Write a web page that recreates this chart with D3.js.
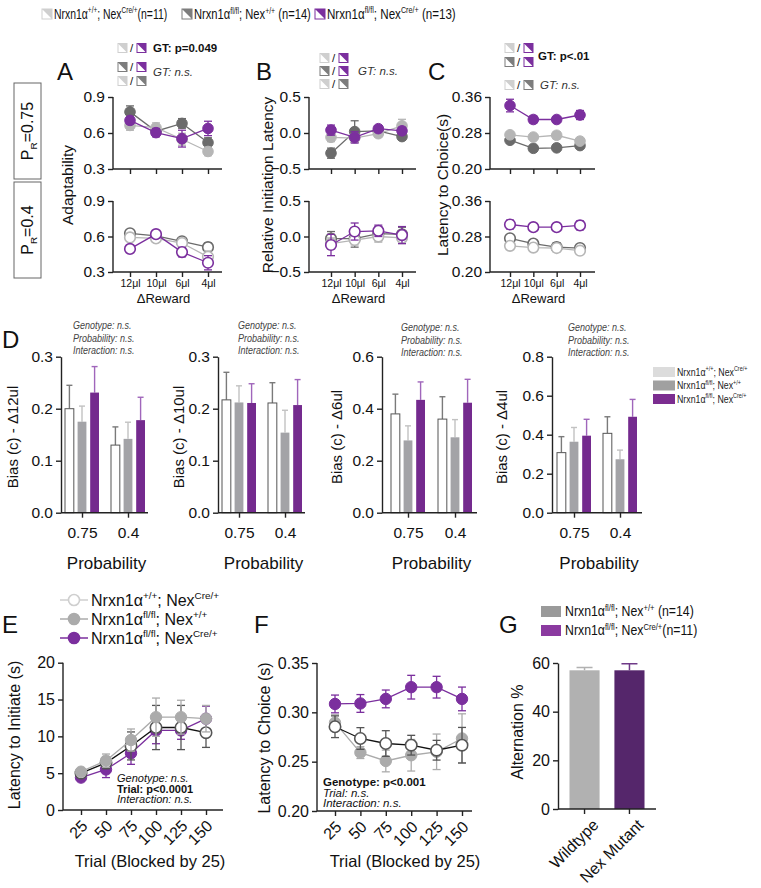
<!DOCTYPE html>
<html><head><meta charset="utf-8">
<script src="https://cdn.jsdelivr.net/npm/d3@7"></script>
<style>body{margin:0;background:#fff}svg{display:block;font-family:"Liberation Sans",Arial,Helvetica,sans-serif}</style>
</head><body><svg id="c" width="761" height="888"></svg>
<script>
// ================= DATA =================
const rewards = ["12μl","10μl","6μl","4μl"];
const trialBlocks = ["25","50","75","100","125","150"];
const probabilities = ["0.75","0.4"];
const genotypes = ["wt","flox","cko"];
const altGroups = ["Wildtype","Nex Mutant"];

// A: Adaptability (P_R = 0.75 top, 0.4 bottom)
const adaptHighWT = [0.663,0.644,0.548,0.446], adaptHighWTErr = [0.04,0.04,0.05,0.035];
const adaptHighFlox = [0.776,0.615,0.680,0.520], adaptHighFloxErr = [0.05,0.04,0.04,0.04];
const adaptHighCko = [0.705,0.603,0.553,0.638], adaptHighCkoErr = [0.03,0.035,0.07,0.06];
const adaptLowWT = [0.592,0.584,0.545,0.428], adaptLowWTErr = [0.035,0.03,0.04,0.05];
const adaptLowFlox = [0.627,0.605,0.559,0.510], adaptLowFloxErr = [0.03,0.03,0.03,0.035];
const adaptLowCko = [0.495,0.620,0.468,0.378], adaptLowCkoErr = [0.03,0.03,0.04,0.06];
// B: Relative initiation latency
const initHighWT = [-0.06,-0.07,-0.01,0.10], initHighWTErr = [0.06,0.06,0.05,0.09];
const initHighFlox = [-0.28,0.02,0.03,-0.05], initHighFloxErr = [0.07,0.15,0.04,0.05];
const initHighCko = [0.04,-0.06,0.06,0.03], initHighCkoErr = [0.07,0.08,0.04,0.05];
const initLowWT = [-0.10,-0.05,0.00,-0.02], initLowWTErr = [0.08,0.07,0.08,0.08];
const initLowFlox = [-0.03,-0.03,0.04,0.03], initLowFloxErr = [0.10,0.12,0.10,0.10];
const initLowCko = [-0.12,0.07,0.08,0.02], initLowCkoErr = [0.15,0.12,0.08,0.12];
// C: Latency to choice
const choiceHighWT = [0.276,0.271,0.275,0.262], choiceHighWTErr = [0.006,0.005,0.008,0.006];
const choiceHighFlox = [0.264,0.246,0.247,0.252], choiceHighFloxErr = [0.007,0.006,0.006,0.005];
const choiceHighCko = [0.341,0.310,0.310,0.320], choiceHighCkoErr = [0.014,0.008,0.006,0.010];
const choiceLowWT = [0.259,0.255,0.254,0.248], choiceLowWTErr = [0.005,0.005,0.005,0.005];
const choiceLowFlox = [0.276,0.264,0.256,0.254], choiceLowFloxErr = [0.007,0.006,0.010,0.006];
const choiceLowCko = [0.307,0.301,0.301,0.305], choiceLowCkoErr = [0.010,0.008,0.006,0.010];
// D: Bias (c), values per probability [0.75, 0.4]
const bias12WT = [0.200,0.130], bias12WTErr = [0.045,0.035];
const bias12Flox = [0.175,0.142], bias12FloxErr = [0.030,0.032];
const bias12Cko = [0.231,0.178], bias12CkoErr = [0.050,0.044];
const bias10WT = [0.217,0.211], bias10WTErr = [0.053,0.039];
const bias10Flox = [0.212,0.154], bias10FloxErr = [0.032,0.043];
const bias10Cko = [0.211,0.207], bias10CkoErr = [0.037,0.049];
const bias6WT = [0.380,0.360], bias6WTErr = [0.076,0.086];
const bias6Flox = [0.278,0.290], bias6FloxErr = [0.056,0.068];
const bias6Cko = [0.434,0.423], bias6CkoErr = [0.069,0.090];
const bias4WT = [0.308,0.407], bias4WTErr = [0.082,0.085];
const bias4Flox = [0.364,0.274], bias4FloxErr = [0.073,0.047];
const bias4Cko = [0.395,0.492], bias4CkoErr = [0.084,0.089];
// E: Latency to initiate by trial block
const initTrialWT = [5.0,6.4,8.7,11.2,11.2,10.5], initTrialWTErr = [0.4,0.8,1.9,3.0,3.0,2.0];
const initTrialFlox = [5.2,6.7,9.5,12.6,12.6,12.4], initTrialFloxErr = [0.4,0.9,1.5,2.6,2.3,1.8];
const initTrialCko = [4.4,5.5,7.7,10.8,10.8,12.4], initTrialCkoErr = [0.4,1.1,1.5,1.8,1.2,1.7];
// F: Latency to choice by trial block
const choiceTrialWT = [0.2854,0.2735,0.2684,0.2667,0.2616,0.2667], choiceTrialWTErr = [0.011,0.011,0.013,0.010,0.010,0.018];
const choiceTrialFlox = [0.2895,0.2592,0.2507,0.2565,0.2600,0.2735], choiceTrialFloxErr = [0.008,0.006,0.011,0.016,0.018,0.025];
const choiceTrialCko = [0.3085,0.3090,0.3136,0.3255,0.3255,0.3136], choiceTrialCkoErr = [0.009,0.009,0.009,0.012,0.011,0.012];
// G: Alternation %
const alternation = [57.0,57.0], alternationErr = [1.1,2.7];

// text labels
const wtLabel = ["Nrxn1α",["+/+","sup"],"; Nex",["Cre/+","sup"]];
const floxLabel = ["Nrxn1α",["fl/fl","sup"],"; Nex",["+/+","sup"]];
const ckoLabel = ["Nrxn1α",["fl/fl","sup"],"; Nex",["Cre/+","sup"]];

// ================= DRAWING =================
const svg = d3.select("#c");
const FONT = '"Liberation Sans", Arial, Helvetica, sans-serif';
const COL = {light:"#b6b6b6", dark:"#6b6b6b", purple:"#7b2f9e", black:"#222"};

function rich(parent, x, y, parts, fs, o = {}) {
  const t = parent.append("text").attr("font-size", fs)
    .attr("fill", o.fill || "#111").attr("font-family", FONT);
  if (o.sx) t.attr("x", 0).attr("y", 0).attr("transform", `translate(${x},${y}) scale(${o.sx},1)`);
  else t.attr("x", x).attr("y", y);
  if (o.anchor) t.attr("text-anchor", o.anchor);
  if (o.transform) t.attr("transform", o.transform);
  if (o.weight) t.attr("font-weight", o.weight);
  if (o.italic) t.attr("font-style", "italic");
  let cur = 0;
  parts.forEach(p => {
    const [s, k] = Array.isArray(p) ? p : [p, "n"];
    const off = k === "sup" ? -fs * 0.38 : k === "sub" ? fs * 0.28 : 0;
    const ts = t.append("tspan").attr("dy", off - cur).text(s);
    cur = off;
    if (k !== "n") ts.attr("font-size", fs * 0.62);
  });
  return t;
}
function txt(x, y, s, fs, o = {}) { return rich(svg, x, y, [s], fs, o); }

function styleAxis(a, fs) {
  a.attr("font-family", FONT).attr("font-size", fs);
  a.selectAll(".domain, .tick line").attr("stroke", "#222").attr("stroke-width", 1.4);
  a.selectAll("text").attr("fill", "#111");
}

function icon(x, y, kind, s = 9) {
  const col = {light:"#cfcfcf", dark:"#7d7d7d", purple:"#7b2f9e"}[kind];
  svg.append("rect").attr("x", x).attr("y", y - s/2).attr("width", s).attr("height", s)
    .attr("fill", "#fff").attr("stroke", col).attr("stroke-width", 1);
  svg.append("path").attr("d", `M${x},${y - s/2}L${x + s},${y - s/2}L${x + s},${y + s/2}Z`).attr("fill", col);
}
function iconRow(x, y, a, b) {
  icon(x, y, a);
  txt(x + 12, y + 4, "/", 11.5);
  icon(x + 19, y, b);
}

function linePanel(o) {
  const g = svg.append("g");
  const x = d3.scalePoint().domain(o.cats).range([o.p0, o.p1]);
  const y = d3.scaleLinear().domain(o.yDom).range([o.yB, o.yT]);
  const ay = g.append("g").attr("transform", `translate(${o.ax0},0)`)
    .call(d3.axisLeft(y).tickValues(o.yTicks).tickFormat(d3.format(o.fmt)).tickSize(5).tickSizeOuter(0));
  ay.select(".domain").attr("d", `M0,${o.yB}V${o.yT}`);
  styleAxis(ay, o.yfs || 15.5);
  const ax = g.append("g").attr("transform", `translate(0,${o.yB})`)
    .call(d3.axisBottom(x).tickSize(5).tickSizeOuter(0));
  ax.select(".domain").attr("d", `M${o.ax0},0H${o.ax1}`);
  styleAxis(ax, o.xfs || 10.5);
  if (!o.xLabels) ax.selectAll("text").remove();
  if (o.rot) ax.selectAll("text").attr("y", 0).attr("dy", 0).attr("text-anchor", "end")
    .attr("transform", o.rot);
  const r = o.r || 5.3;
  o.series.forEach(s => {
    const pts = o.cats.map((c, i) => ({c, v: s.v[i], e: s.e[i]}));
    g.append("path").datum(pts).attr("fill", "none").attr("stroke", s.line || s.col).attr("stroke-width", 1.3)
      .attr("d", d3.line().x(d => x(d.c)).y(d => y(d.v)));
    const ec = s.err || s.col;
    const eg = g.append("g").attr("stroke", ec).attr("stroke-width", 1.3);
    eg.selectAll(".v").data(pts).join("line").attr("x1", d => x(d.c)).attr("x2", d => x(d.c))
      .attr("y1", d => y(d.v - d.e)).attr("y2", d => y(d.v + d.e));
    [1, -1].forEach(sg => eg.selectAll(".c" + sg).data(pts).join("line")
      .attr("x1", d => x(d.c) - 4).attr("x2", d => x(d.c) + 4)
      .attr("y1", d => y(d.v + sg * d.e)).attr("y2", d => y(d.v + sg * d.e)));
    g.append("g").selectAll("circle").data(pts).join("circle")
      .attr("cx", d => x(d.c)).attr("cy", d => y(d.v)).attr("r", r)
      .attr("fill", s.open ? "#fff" : s.col).attr("stroke", s.mk || s.col).attr("stroke-width", s.open ? 1.6 : 1);
  });
  return {x, y};
}

// ---------- top legend ----------
icon(42, 14, "light", 10); rich(svg, 54, 19, [...wtLabel, "(n=11)"], 14.5, {sx: 0.72});
icon(182, 14, "dark", 10); rich(svg, 194, 19, [...floxLabel, " (n=14)"], 14.5, {sx: 0.77});
icon(315, 14, "purple", 10); rich(svg, 327, 19, [...ckoLabel, " (n=13)"], 14.5, {sx: 0.8});

// ---------- panel letters ----------
[["A",57,80],["B",256,80],["C",428,80],["D",2,348],["E",2,633],["F",254,633],["G",499,633]]
  .forEach(([l, x, y]) => txt(x, y, l, 24));

// ---------- P_R boxes ----------
[[83, "0.75"], [182, "0.4"]].forEach(([y0, p]) => {
  svg.append("rect").attr("x", 14).attr("y", y0).attr("width", 27).attr("height", 96)
    .attr("fill", "none").attr("stroke", "#666").attr("stroke-width", 1);
  rich(svg, 0, 0, ["P", ["R", "sub"], "=" + p], 16, {anchor: "middle", transform: `translate(33,${y0 + 48}) rotate(-90)`});
});

// ---------- A/B/C annotations ----------
iconRow(118, 48, "light", "purple"); txt(153, 52, "GT: p=0.049", 11.5, {weight: "bold"});
iconRow(118, 67, "dark", "purple"); txt(153, 76, "GT: n.s.", 11.5, {italic: true, fill: "#333"});
iconRow(118, 81, "light", "dark");
iconRow(320, 58, "light", "purple");
iconRow(320, 71, "dark", "purple"); txt(358, 75, "GT: n.s.", 11.5, {italic: true, fill: "#333"});
iconRow(320, 84, "light", "dark");
iconRow(505, 48, "light", "purple");
iconRow(505, 62, "dark", "purple"); txt(538, 60, "GT: p<.01", 11.5, {weight: "bold"});
iconRow(505, 85, "light", "dark"); txt(540, 89, "GT: n.s.", 11.5, {italic: true, fill: "#333"});

// ---------- A, B, C line panels ----------
function triple(cfg, high, low) {
  const base = {cats: rewards, p0: cfg.p0, p1: cfg.p1, ax0: cfg.ax0, ax1: cfg.ax1, yDom: cfg.yDom, yTicks: cfg.yTicks, fmt: cfg.fmt};
  linePanel({...base, yT: 97, yB: 169, xLabels: false, series: [
    {v: high[1], e: high[4], col: COL.dark},
    {v: high[0], e: high[3], col: COL.light},
    {v: high[2], e: high[5], col: COL.purple}]});
  linePanel({...base, yT: 201, yB: 272, xLabels: true, series: [
    {v: low[1], e: low[4], col: COL.dark, open: true},
    {v: low[0], e: low[3], col: COL.light, open: true},
    {v: low[2], e: low[5], col: COL.purple, open: true}]});
  txt((cfg.ax0 + cfg.ax1) / 2 - 4, 303, "ΔReward", 13, {anchor: "middle"});
  txt(0, 0, cfg.label, 15.5, {anchor: "middle", transform: `translate(${cfg.lx},185) rotate(-90)`});
}
triple({p0: 130, p1: 208, ax0: 113, ax1: 222, yDom: [0.3, 0.9], yTicks: [0.3, 0.6, 0.9], fmt: ".1f", label: "Adaptability", lx: 73},
  [adaptHighWT, adaptHighFlox, adaptHighCko, adaptHighWTErr, adaptHighFloxErr, adaptHighCkoErr],
  [adaptLowWT, adaptLowFlox, adaptLowCko, adaptLowWTErr, adaptLowFloxErr, adaptLowCkoErr]);
triple({p0: 331, p1: 402, ax0: 309, ax1: 416, yDom: [-0.5, 0.5], yTicks: [-0.5, 0, 0.5], fmt: ".1f", label: "Relative Initiation Latency", lx: 273},
  [initHighWT, initHighFlox, initHighCko, initHighWTErr, initHighFloxErr, initHighCkoErr],
  [initLowWT, initLowFlox, initLowCko, initLowWTErr, initLowFloxErr, initLowCkoErr]);
triple({p0: 510, p1: 580, ax0: 490, ax1: 595, yDom: [0.2, 0.36], yTicks: [0.2, 0.28, 0.36], fmt: ".2f", label: "Latency to Choice(s)", lx: 448},
  [choiceHighWT, choiceHighFlox, choiceHighCko, choiceHighWTErr, choiceHighFloxErr, choiceHighCkoErr],
  [choiceLowWT, choiceLowFlox, choiceLowCko, choiceLowWTErr, choiceLowFloxErr, choiceLowCkoErr]);

// ---------- D bar panels ----------
const barFill = {wt: "#fff", flox: "#a3a3a7", cko: "#742a8e"};
const barStroke = {wt: "#555", flox: "none", cko: "none"};
const barErr = {wt: "#7a7a7a", flox: "#c2c2c2", cko: "#a066bb"};
function barPanel(o) {
  const yT = 356.7, yB = 512.7;
  const x = d3.scalePoint().domain(probabilities).range([o.c1, o.c2]);
  const xi = d3.scaleBand().domain(genotypes).range([-17, 17]).paddingInner(0.3);
  const y = d3.scaleLinear().domain([0, o.yMax]).range([yB, yT]);
  const rows = [];
  genotypes.forEach((gt, gi) => probabilities.forEach((p, pi) =>
    rows.push({gt, p, v: o.vals[gi][pi], e: o.errs[gi][pi]})));
  const g = svg.append("g");
  g.selectAll(".eb").data(rows).join("line").attr("stroke", d => barErr[d.gt]).attr("stroke-width", 1.4)
    .attr("x1", d => x(d.p) + xi(d.gt) + xi.bandwidth() / 2).attr("x2", d => x(d.p) + xi(d.gt) + xi.bandwidth() / 2)
    .attr("y1", d => y(d.v)).attr("y2", d => y(d.v + d.e));
  g.selectAll(".ec").data(rows).join("line").attr("stroke", d => barErr[d.gt]).attr("stroke-width", 1.4)
    .attr("x1", d => x(d.p) + xi(d.gt) + xi.bandwidth() / 2 - 3).attr("x2", d => x(d.p) + xi(d.gt) + xi.bandwidth() / 2 + 3)
    .attr("y1", d => y(d.v + d.e)).attr("y2", d => y(d.v + d.e));
  g.selectAll("rect").data(rows).join("rect")
    .attr("x", d => x(d.p) + xi(d.gt)).attr("width", xi.bandwidth())
    .attr("y", d => y(d.v)).attr("height", d => y(0) - y(d.v))
    .attr("fill", d => barFill[d.gt]).attr("stroke", d => barStroke[d.gt]).attr("stroke-width", 1);
  const ay = g.append("g").attr("transform", `translate(${o.ax0},0)`)
    .call(d3.axisLeft(y).tickValues(o.yTicks).tickFormat(d3.format(".1f")).tickSize(5).tickSizeOuter(0));
  styleAxis(ay, 15.5);
  const ax = g.append("g").attr("transform", `translate(0,${yB})`)
    .call(d3.axisBottom(x).tickSize(5).tickPadding(9).tickSizeOuter(0));
  ax.select(".domain").attr("d", `M${o.ax0},0H${o.ax1}`);
  styleAxis(ax, 15.5);
  txt((o.ax0 + o.ax1) / 2 + 2, 569, "Probability", 17, {anchor: "middle"});
  txt(0, 0, o.label, 15, {anchor: "middle", transform: `translate(${o.lx},437) rotate(-90)`});
  [["Genotype: n.s.", 0], ["Probability: n.s.", 12.5], ["Interaction: n.s.", 25]].forEach(([s, dy]) =>
    txt(o.nx, o.ny + dy, s, 11, {italic: true, fill: "#444", sx: 0.82}));
}
barPanel({ax0: 61, ax1: 148, c1: 82, c2: 128, yMax: 0.3, yTicks: [0, 0.1, 0.2, 0.3], lx: 18, label: "Bias (c) - Δ12ul", nx: 73, ny: 329,
  vals: [bias12WT, bias12Flox, bias12Cko], errs: [bias12WTErr, bias12FloxErr, bias12CkoErr]});
barPanel({ax0: 218, ax1: 305, c1: 239, c2: 285, yMax: 0.3, yTicks: [0, 0.1, 0.2, 0.3], lx: 184, label: "Bias (c) - Δ10ul", nx: 238, ny: 329,
  vals: [bias10WT, bias10Flox, bias10Cko], errs: [bias10WTErr, bias10FloxErr, bias10CkoErr]});
barPanel({ax0: 382, ax1: 477, c1: 408, c2: 455, yMax: 0.6, yTicks: [0, 0.2, 0.4, 0.6], lx: 342, label: "Bias (c) - Δ6ul", nx: 401, ny: 331,
  vals: [bias6WT, bias6Flox, bias6Cko], errs: [bias6WTErr, bias6FloxErr, bias6CkoErr]});
barPanel({ax0: 552, ax1: 642, c1: 574, c2: 620, yMax: 0.8, yTicks: [0, 0.2, 0.4, 0.6, 0.8], lx: 507, label: "Bias (c) - Δ4ul", nx: 568, ny: 331,
  vals: [bias4WT, bias4Flox, bias4Cko], errs: [bias4WTErr, bias4FloxErr, bias4CkoErr]});
// D legend
[[wtLabel, "#dcdcdc", 367], [floxLabel, "#a0a0a0", 380.5], [ckoLabel, "#7b2d90", 394]].forEach(([lab, c, y]) => {
  svg.append("rect").attr("x", 653).attr("y", y).attr("width", 22).attr("height", 10).attr("fill", c);
  rich(svg, 677, y + 8.5, lab, 11, {fill: "#222", sx: 0.8});
});

// ---------- E ----------
const rotE = "translate(7,17) rotate(-45)";
linePanel({cats: trialBlocks, p0: 81, p1: 206, ax0: 63, ax1: 223, yT: 662.7, yB: 810, yDom: [0, 20], yTicks: [0, 5, 10, 15, 20], fmt: "d",
  xLabels: true, xfs: 16, rot: rotE, r: 5.7, yfs: 16, series: [
    {v: initTrialCko, e: initTrialCkoErr, col: COL.purple},
    {v: initTrialWT, e: initTrialWTErr, col: "#555", line: "#111", open: true},
    {v: initTrialFlox, e: initTrialFloxErr, col: "#ababab"}]});
txt(0, 0, "Latency to Initiate (s)", 16, {anchor: "middle", transform: "translate(20,735) rotate(-90)"});
txt(150, 867, "Trial (Blocked by 25)", 16.5, {anchor: "middle"});
txt(117, 782, "Genotype: n.s.", 11, {italic: true});
txt(117, 792.5, "Trial: p<0.0001", 11, {weight: "bold"});
txt(117, 803, "Interaction: n.s.", 11, {italic: true});
// E legend
[[wtLabel, "#cfcfcf", true, 600], [floxLabel, "#ababab", false, 619], [ckoLabel, COL.purple, false, 638]].forEach(([lab, c, open, y]) => {
  svg.append("line").attr("x1", 60).attr("x2", 88).attr("y1", y).attr("y2", y).attr("stroke", c).attr("stroke-width", 1.5);
  svg.append("circle").attr("cx", 74).attr("cy", y).attr("r", 5.5).attr("fill", open ? "#fff" : c).attr("stroke", c).attr("stroke-width", 1.6);
  rich(svg, 91, y + 5.5, lab, 16);
});

// ---------- F ----------
linePanel({cats: trialBlocks, p0: 335, p1: 462, ax0: 317, ax1: 472, yT: 663, yB: 811, yDom: [0.2, 0.35], yTicks: [0.2, 0.25, 0.3, 0.35], fmt: ".2f",
  xLabels: true, xfs: 16, rot: rotE, r: 5.7, yfs: 16, series: [
    {v: choiceTrialFlox, e: choiceTrialFloxErr, col: "#ababab"},
    {v: choiceTrialWT, e: choiceTrialWTErr, col: "#555", line: "#111", open: true},
    {v: choiceTrialCko, e: choiceTrialCkoErr, col: COL.purple}]});
txt(0, 0, "Latency to Choice (s)", 16, {anchor: "middle", transform: "translate(270,738) rotate(-90)"});
txt(405, 867, "Trial (Blocked by 25)", 16.5, {anchor: "middle"});
txt(323, 786, "Genotype: p<0.001", 11.5, {weight: "bold"});
txt(323, 796.5, "Trial: n.s.", 11.5, {italic: true});
txt(323, 807, "Interaction: n.s.", 11.5, {italic: true});

// ---------- G ----------
(function () {
  const yT = 663, yB = 809;
  const x = d3.scaleBand().domain(altGroups).range([571 - 6, 643 + 6]).paddingInner(0.33).paddingOuter(0.1);
  const y = d3.scaleLinear().domain([0, 60]).range([yB, yT]);
  const fills = ["#b1b1b1", "#55266b"], errs = ["#b1b1b1", "#6f3a88"];
  const rows = altGroups.map((gname, i) => ({g: gname, v: alternation[i], e: alternationErr[i], i}));
  const g = svg.append("g");
  g.selectAll(".e").data(rows).join("path").attr("fill", "none").attr("stroke", d => errs[d.i]).attr("stroke-width", 1.5)
    .attr("d", d => { const cx = x(d.g) + x.bandwidth() / 2; return `M${cx},${y(d.v)}V${y(d.v + d.e)}M${cx - 8},${y(d.v + d.e)}H${cx + 8}`; });
  g.selectAll("rect").data(rows).join("rect").attr("x", d => x(d.g)).attr("width", x.bandwidth())
    .attr("y", d => y(d.v)).attr("height", d => yB - y(d.v)).attr("fill", d => fills[d.i]);
  const ay = g.append("g").attr("transform", "translate(558,0)")
    .call(d3.axisLeft(y).tickValues([0, 20, 40, 60]).tickSize(5).tickSizeOuter(0));
  styleAxis(ay, 16);
  const ax = g.append("g").attr("transform", `translate(0,${yB})`).call(d3.axisBottom(x).tickSize(5).tickSizeOuter(0));
  ax.select(".domain").attr("d", "M558,0H656");
  styleAxis(ax, 16);
  ax.selectAll("text").attr("y", 0).attr("dy", 0).attr("text-anchor", "end").attr("transform", "translate(15,17) rotate(-45)");
  txt(0, 0, "Alternation %", 16, {anchor: "middle", transform: "translate(523,732) rotate(-90)"});
  svg.append("rect").attr("x", 541).attr("y", 606).attr("width", 20).attr("height", 11).attr("fill", "#9a9a9a");
  rich(svg, 565, 616, [...floxLabel, " (n=14)"], 14, {sx: 0.88});
  svg.append("rect").attr("x", 541).attr("y", 625).attr("width", 20).attr("height", 11).attr("fill", "#8b3aa0");
  rich(svg, 565, 635, [...ckoLabel, "(n=11)"], 14, {sx: 0.88});
})();
</script></body></html>
